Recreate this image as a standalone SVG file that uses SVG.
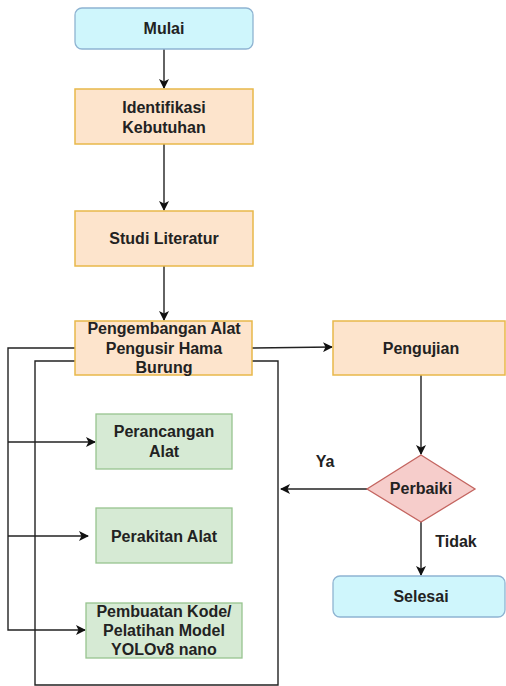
<svg xmlns="http://www.w3.org/2000/svg" width="506" height="686" viewBox="0 0 506 686">
<style>
text{font-family:"Liberation Sans",Arial,sans-serif;font-weight:bold;font-size:16px;fill:#222;text-anchor:middle}
.term{fill:#cff6fc;stroke:#8fb4d2;stroke-width:1.3}
.proc{fill:#fde4cc;stroke:#e8b84a;stroke-width:1.5}
.sub{fill:#d6ead4;stroke:#97c48f;stroke-width:1.3}
.dec{fill:#f6cdcb;stroke:#c46560;stroke-width:1.3}
.c{fill:none;stroke:#222;stroke-width:1.4}
</style>
<defs>
<marker id="a" viewBox="0 0 10 10" refX="9" refY="5" markerWidth="10" markerHeight="10" markerUnits="userSpaceOnUse" orient="auto">
<path d="M0,0 L10,5 L0,10 L2.5,5 Z" fill="#111"/>
</marker>
</defs>
<rect width="506" height="686" fill="#fff"/>
<g id="connectors">
<path class="c" d="M164,49 V88" marker-end="url(#a)"/>
<path class="c" d="M164,144 V210" marker-end="url(#a)"/>
<path class="c" d="M164,266 V320" marker-end="url(#a)"/>
<path class="c" d="M252,348 L332,347" marker-end="url(#a)"/>
<path class="c" d="M421,375 V454" marker-end="url(#a)"/>
<path class="c" d="M367,489 H281" marker-end="url(#a)"/>
<path class="c" d="M421,522 V575" marker-end="url(#a)"/>
<path class="c" d="M75,348 H8 V630 H85" marker-end="url(#a)"/>
<path class="c" d="M8,442 H95" marker-end="url(#a)"/>
<path class="c" d="M8,536 H88" marker-end="url(#a)"/>
<path class="c" d="M75,361 H35 V685 H278 V361 H252"/>
<text x="325" y="467">Ya</text>
<text x="456" y="547">Tidak</text>
</g>
<g id="mulai"><rect class="term" x="75" y="8" width="178" height="41" rx="7"/><text x="164" y="34">Mulai</text></g>
<g id="identifikasi"><rect class="proc" x="75" y="89" width="178" height="55"/><text x="164" y="113">Identifikasi</text><text x="164" y="133">Kebutuhan</text></g>
<g id="studi"><rect class="proc" x="75" y="211" width="178" height="55"/><text x="164" y="244">Studi Literatur</text></g>
<g id="pengembangan"><rect class="proc" x="75" y="321" width="177" height="54"/><text x="164" y="334">Pengembangan Alat</text><text x="164" y="354">Pengusir Hama</text><text x="164" y="373">Burung</text></g>
<g id="pengujian"><rect class="proc" x="333" y="321" width="172" height="54"/><text x="421" y="354">Pengujian</text></g>
<g id="perancangan"><rect class="sub" x="96" y="414" width="136" height="55"/><text x="164" y="437">Perancangan</text><text x="164" y="457">Alat</text></g>
<g id="perakitan"><rect class="sub" x="96" y="508" width="136" height="55"/><text x="164" y="542">Perakitan Alat</text></g>
<g id="pembuatan"><rect class="sub" x="86" y="603" width="156" height="55"/><text x="164" y="617">Pembuatan Kode/</text><text x="164" y="636">Pelatihan Model</text><text x="164" y="655">YOLOv8 nano</text></g>
<g id="perbaiki"><polygon class="dec" points="421,455 475,489 421,522 367,489"/><text x="421" y="494">Perbaiki</text></g>
<g id="selesai"><rect class="term" x="333" y="576" width="172" height="41" rx="7"/><text x="421" y="602">Selesai</text></g>
</svg>
